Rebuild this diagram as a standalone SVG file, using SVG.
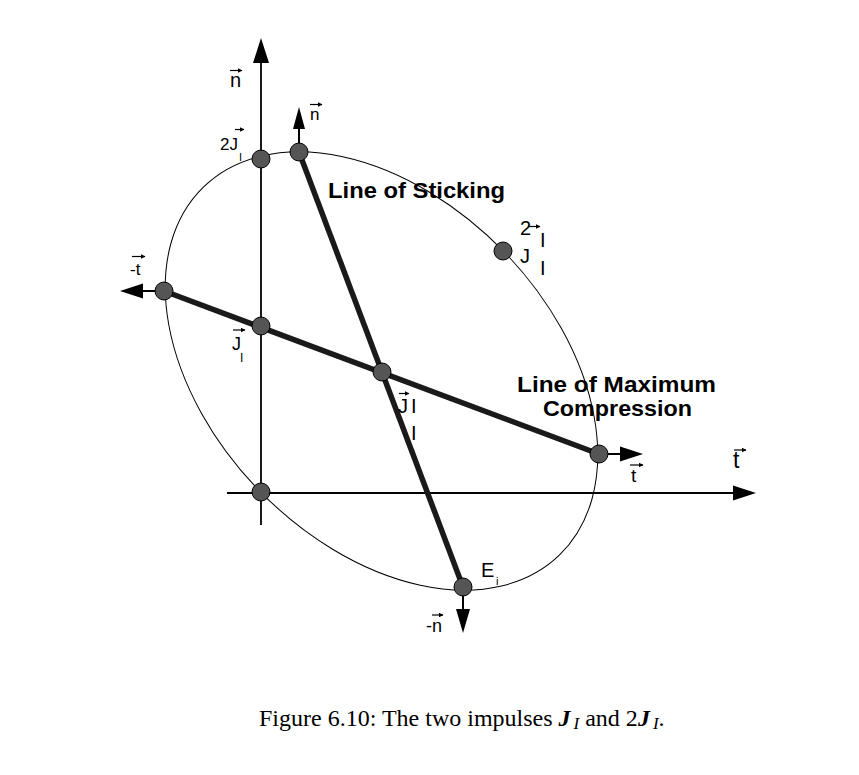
<svg xmlns="http://www.w3.org/2000/svg" width="859" height="775" viewBox="0 0 859 775">
<style>
.lbl{font-family:"Liberation Sans",Arial,sans-serif;fill:#000}
.b{font-weight:bold}
.ax{stroke:#000;stroke-width:1.8;fill:none}
.thick{stroke:#1a1a1a;stroke-width:5.5;fill:none}
.stem{stroke:#000;stroke-width:2;fill:none}
.head{fill:#000;stroke:none}
.node{fill:#555;stroke:#000;stroke-width:1}
.acc{stroke:#000;stroke-width:1.2;fill:none;marker-end:url(#accHead)}
.cap{font-family:"Liberation Serif","Times New Roman",serif;font-size:24px;fill:#000}
</style>
<defs>
<marker id="accHead" viewBox="0 0 10 10" refX="9" refY="5" markerWidth="5" markerHeight="5" markerUnits="userSpaceOnUse" orient="auto">
<path d="M0,0 L10,5 L0,10 z" fill="#000"/>
</marker>
</defs>
<rect width="859" height="775" fill="#fff"/>

<g id="connectors">
<ellipse cx="381.5" cy="371" rx="256" ry="171" transform="rotate(46 381.5 371)" fill="none" stroke="#000" stroke-width="1"/>
<line class="ax" x1="261" y1="525" x2="261" y2="60"/>
<polygon class="head" points="261,38 253,63 269,63"/>
<line class="ax" x1="227" y1="493" x2="735" y2="493"/>
<polygon class="head" points="756,493 733,485.5 733,500.5"/>
<line class="thick" x1="299" y1="152" x2="463" y2="587"/>
<line class="thick" x1="164" y1="291" x2="599" y2="454"/>
<line class="stem" x1="299" y1="152" x2="299" y2="127"/>
<polygon class="head" points="299,107 293,129 305,129"/>
<line class="stem" x1="164" y1="291" x2="141" y2="291"/>
<polygon class="head" points="120,291 143,283.5 143,298.5"/>
<line class="stem" x1="599" y1="454" x2="622" y2="454"/>
<polygon class="head" points="643,454 620,446.5 620,461.5"/>
<line class="stem" x1="463" y1="587" x2="463" y2="611"/>
<polygon class="head" points="463,633 456,609 470,609"/>
</g>

<g id="node-2J-axis"><circle class="node" cx="261" cy="159" r="9"/></g>
<g id="node-sticking-top"><circle class="node" cx="299" cy="152" r="9"/></g>
<g id="node-compression-left"><circle class="node" cx="164" cy="291" r="9"/></g>
<g id="node-J-axis"><circle class="node" cx="261" cy="326" r="9"/></g>
<g id="node-center"><circle class="node" cx="382" cy="372" r="9"/></g>
<g id="node-2J-ellipse"><circle class="node" cx="503" cy="251" r="9"/></g>
<g id="node-compression-right"><circle class="node" cx="599" cy="454" r="9"/></g>
<g id="node-sticking-bottom"><circle class="node" cx="463" cy="587" r="9"/></g>
<g id="node-origin"><circle class="node" cx="261" cy="492" r="9"/></g>

<g id="labels">
<text class="lbl" x="230" y="87" font-size="20">n</text>
<line class="acc" x1="230" y1="70.5" x2="242" y2="70.5"/>
<text class="lbl" x="310" y="120" font-size="17">n</text>
<line class="acc" x1="310" y1="104.5" x2="322" y2="104.5"/>

<text class="lbl" x="220" y="150" font-size="17">2J</text>
<text class="lbl" x="239" y="161" font-size="11">I</text>
<line class="acc" x1="235" y1="129.5" x2="244" y2="129.5"/>

<text class="lbl" x="520" y="235" font-size="20">2</text>
<line class="acc" x1="528" y1="226.5" x2="540" y2="226.5"/>
<text class="lbl" x="520" y="263" font-size="20">J</text>
<text class="lbl" x="540" y="247" font-size="20">I</text>
<text class="lbl" x="540" y="275" font-size="20">I</text>

<text class="lbl" x="130" y="275" font-size="17">-t</text>
<line class="acc" x1="132" y1="256.5" x2="145" y2="256.5"/>

<text class="lbl" x="232" y="350" font-size="18">J</text>
<text class="lbl" x="240" y="362" font-size="12">I</text>
<line class="acc" x1="233" y1="330" x2="245" y2="330"/>

<text class="lbl" x="398" y="413" font-size="20">J</text>
<text class="lbl" x="411" y="413" font-size="20">I</text>
<text class="lbl" x="411" y="440" font-size="20">I</text>
<line class="acc" x1="399" y1="393.5" x2="409" y2="393.5"/>

<text class="lbl" x="631" y="482" font-size="19">t</text>
<line class="acc" x1="630" y1="465" x2="643" y2="465"/>
<text class="lbl" x="733" y="468" font-size="23">t</text>
<line class="acc" x1="734" y1="450" x2="746" y2="450"/>

<text class="lbl" x="481" y="577" font-size="20">E</text>
<text class="lbl" x="496" y="585" font-size="11">i</text>

<text class="lbl" x="426" y="632" font-size="18">-n</text>
<line class="acc" x1="432" y1="615" x2="443" y2="615"/>

<text class="lbl b" x="328" y="198" font-size="22" textLength="177" lengthAdjust="spacingAndGlyphs">Line of Sticking</text>
<text class="lbl b" x="517" y="392" font-size="22" textLength="199" lengthAdjust="spacingAndGlyphs">Line of Maximum</text>
<text class="lbl b" x="543" y="416" font-size="22" textLength="149" lengthAdjust="spacingAndGlyphs">Compression</text>
</g>

<text class="cap" x="259" y="726">Figure 6.10: The two impulses <tspan font-weight="bold" font-style="italic">J</tspan><tspan font-style="italic" font-size="17" dx="3" dy="3">I</tspan><tspan dy="-3"> and 2</tspan><tspan font-weight="bold" font-style="italic">J</tspan><tspan font-style="italic" font-size="17" dx="3" dy="3">I</tspan><tspan dy="-3">.</tspan></text>
</svg>
